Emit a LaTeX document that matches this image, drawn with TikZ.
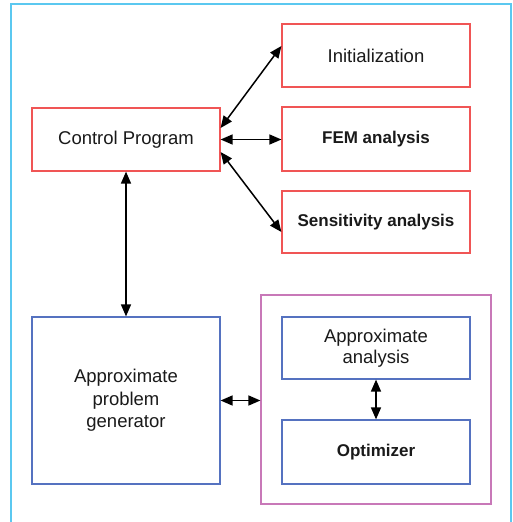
\documentclass[tikz,border=0pt]{standalone}
\usepackage{fontspec}
\setmainfont{Liberation Sans}
\usetikzlibrary{arrows.meta}
\definecolor{bred}{HTML}{F05555}
\definecolor{bblue}{HTML}{5572C0}
\definecolor{bpurp}{HTML}{C878B8}
\definecolor{bcyan}{HTML}{5BC8F0}
\definecolor{txt}{HTML}{1A1A1A}
\begin{document}
\begin{tikzpicture}[x=1pt,y=-1pt,
  box/.style={draw,line width=1.2pt,minimum width=188pt,inner sep=0pt,text=txt,align=center,font=\fontsize{18.5}{22.5}\selectfont},
  redbox/.style={box,draw=bred},
  bluebox/.style={box,draw=bblue},
  boldtxt/.style={font=\fontsize{17}{21}\selectfont\bfseries},
  conn/.style={line width=1.5pt,{Triangle[length=12pt,width=10pt]}-{Triangle[length=12pt,width=10pt]}}]
\useasboundingbox (0,0) rectangle (512,522);
\fill[white] (0,0) rectangle (512,522);
\draw[bcyan,line width=1.6pt] (11,522) -- (11,4) -- (511,4) -- (511,522);
\node[redbox,minimum height=63pt] (ctrl) at (126,139.5) {Control Program};
\node[redbox,minimum height=63pt] (init) at (376,55.5) {Initialization};
\node[redbox,minimum height=64pt,boldtxt] (fem) at (376,139) {FEM analysis};
\node[redbox,minimum height=62pt,boldtxt] (sens) at (376,222) {Sensitivity analysis};
\node[bluebox,minimum height=167pt] (apg) at (126,400.5) {Approximate\\problem\\generator};
\node[draw=bpurp,line width=1.2pt,minimum width=230pt,minimum height=209pt,inner sep=0pt] (purp) at (376,399.5) {};
\node[bluebox,minimum height=62pt,font=\fontsize{18.5}{21}\selectfont] (aa) at (376,348) {Approximate\\analysis};
\node[bluebox,minimum height=64pt,boldtxt] (opt) at (376,452) {Optimizer};
\draw[conn] ([yshift=11.5pt]ctrl.east) -- ([yshift=9.5pt]init.west);
\draw[conn] (ctrl.east) -- (ctrl.east -| fem.west);
\draw[conn] ([yshift=-12.5pt]ctrl.east) -- ([yshift=-10pt]sens.west);
\draw[conn] (ctrl.south) -- (apg.north);
\draw[conn] (apg.east) -- (apg.east -| purp.west);
\draw[conn] (aa.south) -- (opt.north);
\end{tikzpicture}
\end{document}
